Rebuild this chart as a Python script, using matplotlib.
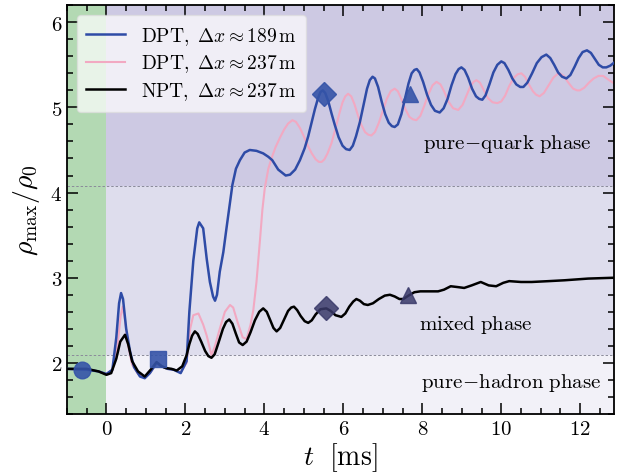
import matplotlib
matplotlib.use("Agg")
import matplotlib.pyplot as plt
from matplotlib.ticker import MultipleLocator, FuncFormatter

plt.rcParams['mathtext.fontset'] = 'cm'
plt.rcParams['font.family'] = 'DejaVu Serif'

# ---- data ----
t_dpt189 = [-1.0, -0.5, -0.2, 0.0, 0.15, 0.25, 0.32, 0.37, 0.42, 0.5, 0.6, 0.7, 0.85, 0.97, 1.1, 1.27, 1.4, 1.55, 1.7, 1.88,
            2.03, 2.1, 2.2, 2.3, 2.35, 2.45, 2.54, 2.62, 2.7, 2.75, 2.8, 2.87, 2.96, 3.04, 3.12, 3.19, 3.28, 3.38, 3.5, 3.63,
            3.8, 3.97, 4.1, 4.2, 4.35, 4.54, 4.65, 4.78, 4.9, 5.02, 5.11, 5.2, 5.28, 5.36, 5.42, 5.48, 5.54, 5.62, 5.70, 5.78,
            5.88, 5.98, 6.07, 6.16, 6.24, 6.32, 6.42, 6.52, 6.60, 6.67, 6.74, 6.80, 6.88, 6.97, 7.06, 7.15, 7.23, 7.30, 7.38,
            7.47, 7.56, 7.65, 7.73, 7.80, 7.86, 7.93, 8.02, 8.12, 8.22, 8.32, 8.44, 8.54, 8.64, 8.74, 8.84, 8.92, 8.99, 9.07,
            9.16, 9.26, 9.36, 9.44, 9.52, 9.60, 9.70, 9.80, 9.90, 10.0, 10.08, 10.18, 10.28, 10.38, 10.48, 10.56, 10.66, 10.78,
            10.90, 11.02, 11.14, 11.24, 11.34, 11.44, 11.54, 11.65, 11.75, 11.86, 11.96, 12.06, 12.17, 12.27, 12.37, 12.47,
            12.57, 12.66, 12.76, 12.87]
rho_dpt189 = [1.93, 1.92, 1.90, 1.87, 1.92, 2.30, 2.70, 2.82, 2.75, 2.40, 2.13, 1.95, 1.84, 1.82, 1.88, 2.00, 1.96, 1.93, 1.92, 1.88,
              2.02, 2.60, 3.20, 3.58, 3.65, 3.58, 3.22, 2.95, 2.78, 2.73, 2.80, 3.07, 3.30, 3.58, 3.85, 4.09, 4.28, 4.38, 4.47, 4.50,
              4.49, 4.46, 4.42, 4.38, 4.27, 4.20, 4.21, 4.27, 4.38, 4.52, 4.66, 4.83, 4.98, 5.11, 5.18, 5.20, 5.17, 5.07, 4.93, 4.80,
              4.65, 4.55, 4.51, 4.50, 4.55, 4.66, 4.83, 5.05, 5.22, 5.32, 5.36, 5.34, 5.24, 5.07, 4.92, 4.82, 4.78, 4.77, 4.80,
              4.92, 5.10, 5.28, 5.40, 5.44, 5.45, 5.41, 5.30, 5.15, 5.03, 4.96, 4.94, 4.99, 5.10, 5.26, 5.39, 5.45, 5.47, 5.44,
              5.35, 5.22, 5.13, 5.10, 5.09, 5.14, 5.27, 5.41, 5.50, 5.54, 5.52, 5.44, 5.34, 5.27, 5.24, 5.24, 5.29, 5.40,
              5.52, 5.59, 5.62, 5.58, 5.50, 5.41, 5.36, 5.34, 5.38, 5.48, 5.58, 5.65, 5.67, 5.64, 5.57, 5.50,
              5.47, 5.47, 5.49, 5.53]

t_dpt237 = [-1.0, -0.5, -0.2, 0.0, 0.15, 0.28, 0.36, 0.41, 0.47, 0.55, 0.65, 0.8, 0.97, 1.1, 1.27, 1.4, 1.55, 1.7, 1.88, 2.03,
            2.12, 2.2, 2.33, 2.45, 2.54, 2.66, 2.75, 2.87, 3.0, 3.13, 3.21, 3.32, 3.45, 3.55, 3.65, 3.72, 3.8, 3.89, 3.95, 4.01,
            4.1, 4.18, 4.28, 4.39, 4.5, 4.6, 4.71, 4.80, 4.90, 5.0, 5.1, 5.2, 5.3, 5.38, 5.45, 5.52, 5.6, 5.7, 5.8, 5.9, 5.98,
            6.05, 6.12, 6.2, 6.28, 6.36, 6.45, 6.55, 6.63, 6.71, 6.80, 6.9, 7.0, 7.1, 7.2, 7.30, 7.38, 7.47, 7.57, 7.67, 7.76,
            7.85, 7.95, 8.05, 8.15, 8.26, 8.36, 8.46, 8.56, 8.66, 8.78, 8.91, 9.02, 9.12, 9.22, 9.30, 9.37, 9.46, 9.56, 9.66,
            9.78, 9.90, 10.0, 10.1, 10.2, 10.32, 10.42, 10.51, 10.6, 10.7, 10.8, 10.88, 10.97, 11.08, 11.2, 11.32, 11.42, 11.48,
            11.58, 11.7, 11.82, 11.92, 11.99, 12.1, 12.22, 12.34, 12.46, 12.58, 12.7, 12.86]
rho_dpt237 = [1.93, 1.92, 1.90, 1.87, 1.91, 2.20, 2.55, 2.66, 2.50, 2.20, 1.98, 1.87, 1.83, 1.88, 1.99, 1.96, 1.93, 1.92, 1.89, 2.00,
              2.40, 2.56, 2.58, 2.45, 2.32, 2.09, 2.20, 2.40, 2.60, 2.68, 2.65, 2.48, 2.30, 2.28, 2.45, 2.62, 2.95, 3.45, 3.80, 4.05,
              4.28, 4.40, 4.53, 4.64, 4.74, 4.81, 4.85, 4.83, 4.76, 4.66, 4.55, 4.46, 4.39, 4.36, 4.36, 4.39, 4.46, 4.58, 4.75, 4.93,
              5.06, 5.13, 5.16, 5.13, 5.04, 4.92, 4.80, 4.71, 4.68, 4.67, 4.71, 4.82, 4.96, 5.10, 5.19, 5.22, 5.19, 5.10, 4.98,
              4.89, 4.86, 4.85, 4.90, 5.02, 5.15, 5.26, 5.30, 5.27, 5.18, 5.07, 4.99, 4.97, 5.03, 5.14, 5.25, 5.30, 5.32, 5.29,
              5.20, 5.11, 5.06, 5.05, 5.07, 5.14, 5.25, 5.35, 5.39, 5.40, 5.36, 5.27, 5.19, 5.15, 5.13, 5.17, 5.26, 5.35, 5.39,
              5.40, 5.37, 5.29, 5.22, 5.20, 5.20, 5.23, 5.29, 5.34, 5.37, 5.37, 5.33, 5.28]

t_npt237 = [-1.0, -0.5, -0.2, 0.0, 0.12, 0.25, 0.35, 0.47, 0.55, 0.65, 0.8, 0.97, 1.12, 1.27, 1.4, 1.5, 1.65, 1.78, 1.92,
            2.03, 2.1, 2.17, 2.24, 2.31, 2.4, 2.5, 2.58, 2.66, 2.74, 2.84, 2.95, 3.03, 3.11, 3.19, 3.28, 3.36, 3.45, 3.55, 3.65,
            3.76, 3.87, 3.97, 4.06, 4.15, 4.23, 4.31, 4.40, 4.5, 4.6, 4.68, 4.75, 4.83, 4.92, 5.02, 5.11, 5.2, 5.3, 5.42, 5.57,
            5.68, 5.8, 5.95, 6.05, 6.15, 6.25, 6.33, 6.42, 6.52, 6.62, 6.75, 6.9, 7.05, 7.18, 7.3, 7.42, 7.52, 7.65, 7.8, 7.95,
            8.2, 8.4, 8.55, 8.72, 8.9, 9.06, 9.25, 9.48, 9.68, 9.87, 10.05, 10.2, 10.5, 10.77, 11.2, 11.6, 12.2, 12.86]
rho_npt237 = [1.93, 1.93, 1.90, 1.86, 1.88, 2.05, 2.25, 2.33, 2.22, 2.02, 1.90, 1.84, 1.92, 2.01, 1.96, 1.94, 1.93, 1.91, 1.96,
              2.09, 2.22, 2.32, 2.37, 2.34, 2.25, 2.14, 2.08, 2.06, 2.10, 2.24, 2.40, 2.48, 2.51, 2.46, 2.34, 2.24, 2.21, 2.25, 2.36,
              2.50, 2.60, 2.64, 2.60, 2.50, 2.41, 2.37, 2.41, 2.51, 2.61, 2.65, 2.66, 2.62, 2.55, 2.49, 2.47, 2.50, 2.57, 2.63, 2.64,
              2.61, 2.56, 2.54, 2.58, 2.66, 2.72, 2.75, 2.73, 2.69, 2.68, 2.70, 2.75, 2.79, 2.80, 2.78, 2.75, 2.75, 2.79, 2.83, 2.84,
              2.84, 2.84, 2.86, 2.90, 2.89, 2.88, 2.91, 2.95, 2.91, 2.90, 2.94, 2.96, 2.95, 2.95, 2.96, 2.97, 2.99, 3.00]

# marker points
blue_marker_t = [-0.63, 1.30, 5.51, 7.68]
blue_marker_rho = [1.92, 2.05, 5.16, 5.16]
blue_marker_shape = ['o', 's', 'D', '^']
npt_marker_t = [5.57, 7.63]
npt_marker_rho = [2.64, 2.80]
npt_marker_shape = ['D', '^']

rho_hadron_mixed = 2.09
rho_mixed_quark = 4.08
t_merger = 0.0

labels = [r'$\mathrm{DPT},\ \Delta x \approx 189\,\mathrm{m}$',
          r'$\mathrm{DPT},\ \Delta x \approx 237\,\mathrm{m}$',
          r'$\mathrm{NPT},\ \Delta x \approx 237\,\mathrm{m}$']

# ---- figure ----
fig = plt.figure(figsize=(6.2, 4.77), dpi=100)
ax = fig.add_axes([0.108, 0.130, 0.882, 0.857])
xmin, xmax, ymin, ymax = -1.0, 12.85, 1.40, 6.20
ax.set_xlim(xmin, xmax)
ax.set_ylim(ymin, ymax)

# background regions
ax.axhspan(ymin, rho_hadron_mixed, color='#f2f1f8', zorder=0, lw=0)
ax.axhspan(rho_hadron_mixed, rho_mixed_quark, color='#dedded', zorder=0, lw=0)
ax.axhspan(rho_mixed_quark, ymax, color='#cdc9e3', zorder=0, lw=0)
ax.axvspan(xmin, t_merger, color='#b3d9b3', zorder=0.5, lw=0)
for yv in (rho_hadron_mixed, rho_mixed_quark):
    ax.axhline(yv, color='#8a8a9a', lw=0.7, ls=(0, (2.5, 2)), zorder=1)

ax.plot(t_dpt189, rho_dpt189, color='#2e4ba6', lw=1.8, label=labels[0], zorder=3,
        solid_joinstyle='round')
ax.plot(t_dpt237, rho_dpt237, color='#f2a9c2', lw=1.5, label=labels[1], zorder=2,
        solid_joinstyle='round')
ax.plot(t_npt237, rho_npt237, color='black', lw=1.8, label=labels[2], zorder=4,
        solid_joinstyle='round')

sizes = {'o': 12, 's': 12, 'D': 12, '^': 12}
for tt, rr, m in zip(blue_marker_t, blue_marker_rho, blue_marker_shape):
    ax.plot(tt, rr, marker=m, ms=sizes[m], color='#3554a8', alpha=0.9,
            ls='none', zorder=5)
for tt, rr, m in zip(npt_marker_t, npt_marker_rho, npt_marker_shape):
    ax.plot(tt, rr, marker=m, ms=sizes[m], color='#3a3a6a', alpha=0.85, ls='none', zorder=5)

ax.text(10.15, 4.58, r'$\mathrm{pure\!-\!quark\ phase}$', fontsize=15, ha='center', va='center')
ax.text(9.35, 2.46, r'$\mathrm{mixed\ phase}$', fontsize=15, ha='center', va='center')
ax.text(10.25, 1.78, r'$\mathrm{pure\!-\!hadron\ phase}$', fontsize=15, ha='center', va='center')

ax.set_xlabel(r'$t\ \ [\mathrm{ms}]$', fontsize=20, labelpad=2)
ax.set_ylabel(r'$\rho_{\max}/\rho_0$', fontsize=20, labelpad=6)

ax.xaxis.set_major_locator(MultipleLocator(2))
ax.xaxis.set_minor_locator(MultipleLocator(0.5))
ax.yaxis.set_major_locator(MultipleLocator(1))
ax.yaxis.set_minor_locator(MultipleLocator(0.2))
fmt = FuncFormatter(lambda v, p: r'$%d$' % round(v))
ax.xaxis.set_major_formatter(fmt)
ax.yaxis.set_major_formatter(fmt)
ax.tick_params(which='both', direction='in', top=True, right=True, labelsize=15, width=1.1)
ax.tick_params(which='major', length=8)
ax.tick_params(which='minor', length=4)
for s in ax.spines.values():
    s.set_linewidth(1.3)

leg = ax.legend(loc='upper left', fontsize=14, frameon=True, framealpha=0.7,
                facecolor='white', edgecolor='#dddddd', handlelength=2.0,
                borderpad=0.5, labelspacing=0.3, handletextpad=0.8,
                bbox_to_anchor=(0.0, 1.0))

fig.savefig('out.png', dpi=100)
